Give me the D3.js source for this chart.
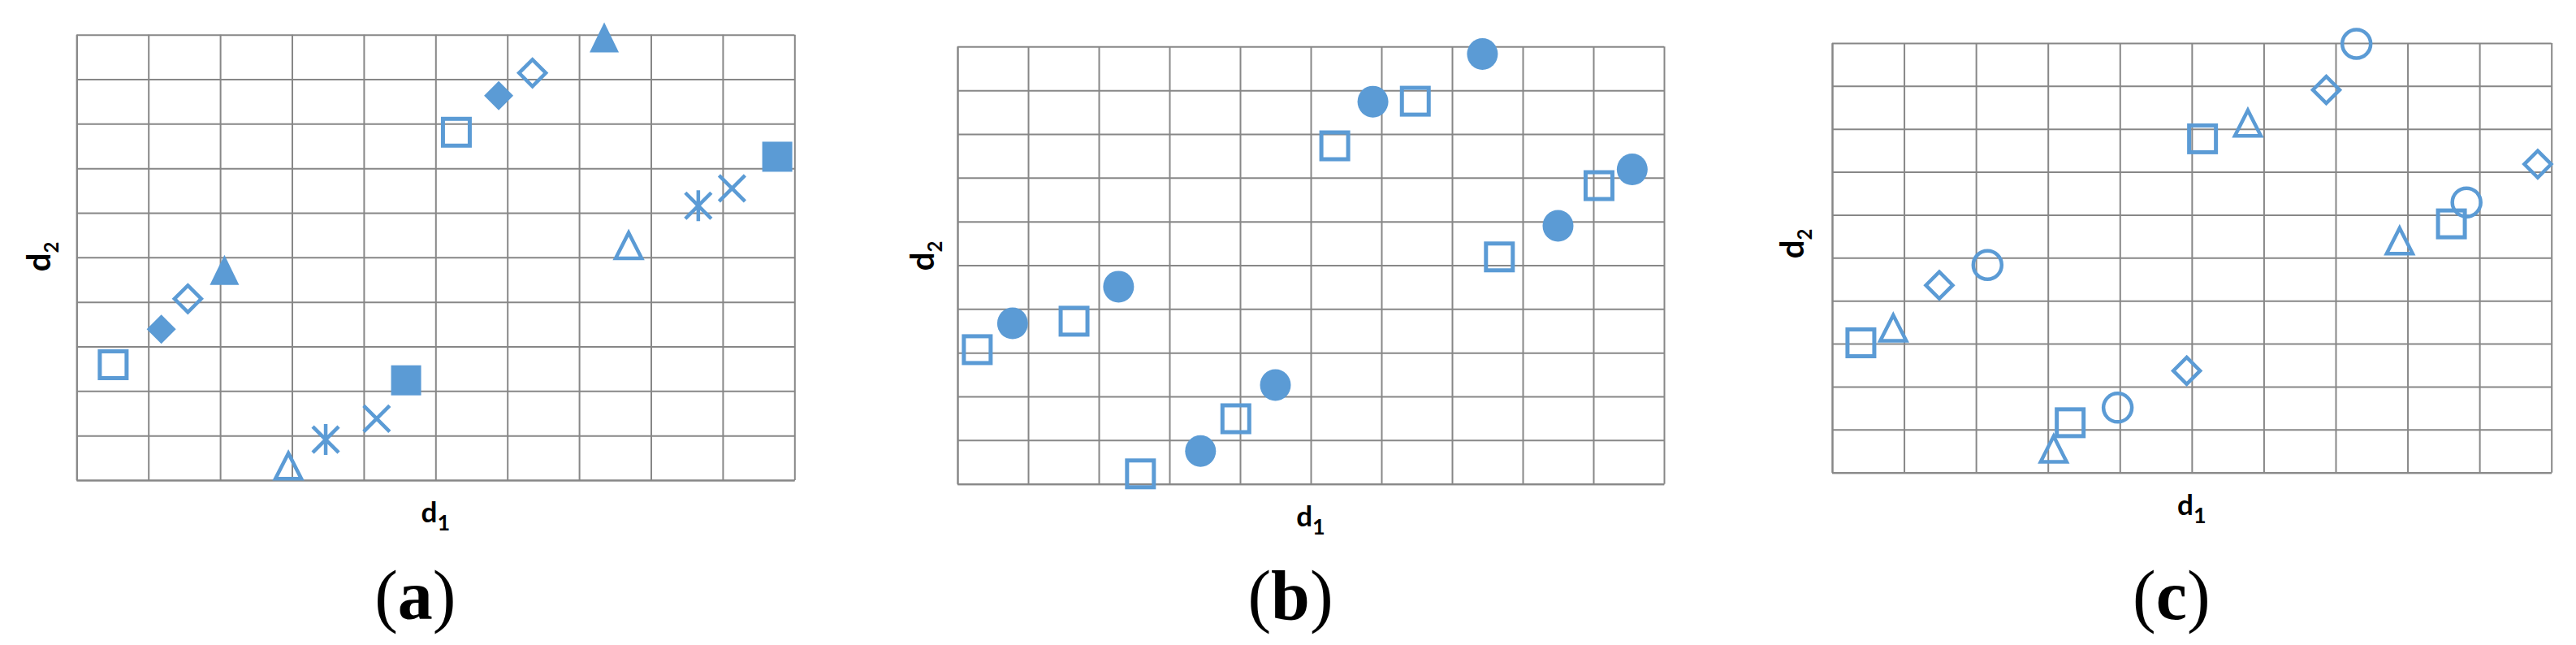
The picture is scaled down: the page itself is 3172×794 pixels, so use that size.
<!DOCTYPE html>
<html><head><meta charset="utf-8">
<script src="https://cdn.jsdelivr.net/npm/d3@7"></script>
<style>body{margin:0;background:#fff} svg{display:block}</style>
</head><body>
<svg id="chart" width="3172" height="794"></svg>
<script>
// ---- data ----
const gridTicks = [0,1,2,3,4,5,6,7,8,9,10];
const panelLabels = ["a","b","c"];
const xAxisLabel = "d", xAxisSub = "1";
const yAxisLabel = "d", yAxisSub = "2";

const aX = [0.51,1.18,1.55,2.06,2.95,3.47,4.18,4.59,5.29,5.88,6.35,7.35,7.69,8.66,9.13,9.76];
const aY = [2.59,3.39,4.07,4.72,0.34,0.91,1.38,2.24,7.81,8.63,9.14,9.94,5.29,6.16,6.55,7.26];
const aMarker = ["squareOpen","diamondFilled","diamondOpen","triangleFilled","triangleOpen","asterisk","cross","squareFilled",
                 "squareOpen","diamondFilled","diamondOpen","triangleFilled","triangleOpen","asterisk","cross","squareFilled"];

const bX = [0.28,0.78,1.65,2.28,2.59,3.44,3.94,4.50,5.34,5.88,6.48,7.43,7.67,8.50,9.08,9.55];
const bY = [3.07,3.67,3.72,4.51,0.23,0.75,1.49,2.26,7.73,8.74,8.75,9.83,5.19,5.90,6.82,7.19];
const bMarker = ["squareOpen","circleFilled","squareOpen","circleFilled","squareOpen","circleFilled","squareOpen","circleFilled",
                 "squareOpen","circleFilled","squareOpen","circleFilled","squareOpen","circleFilled","squareOpen","circleFilled"];

const cX = [0.40,0.85,1.49,2.16,3.08,3.31,3.97,4.93,5.15,5.78,6.87,7.29,7.89,8.61,8.82,9.81];
const cY = [3.02,3.39,4.36,4.83,0.57,1.16,1.51,2.37,7.77,8.16,8.91,9.98,5.42,5.79,6.29,7.18];
const cMarker = ["squareOpen","triangleOpen","diamondOpen","circleOpen","triangleOpen","squareOpen","circleOpen","diamondOpen",
                 "squareOpen","triangleOpen","diamondOpen","circleOpen","triangleOpen","squareOpen","circleOpen","diamondOpen"];

// ---- layout ----
const BLUE = "#5B9BD5", GRID = "#878787";
const panels = [
  {xs:aX, ys:aY, ms:aMarker, label:panelLabels[0], left:94.3, right:978.3, top:42.7, bottom:591, yLabX:61.7, yLabY:316},
  {xs:bX, ys:bY, ms:bMarker, label:panelLabels[1], left:1179, right:2049, top:57.3, bottom:595.7, yLabX:1149.5, yLabY:315},
  {xs:cX, ys:cY, ms:cMarker, label:panelLabels[2], left:2256, right:3141.7, top:53, bottom:581.7, yLabX:2221.4, yLabY:300}
];

const svg = d3.select("#chart");

function drawMarker(g, type) {
  const s = BLUE;
  switch (type) {
    case "squareOpen":
      g.append("rect").attr("x",-16.5).attr("y",-16.5).attr("width",33).attr("height",33)
        .attr("fill","none").attr("stroke",s).attr("stroke-width",5); break;
    case "squareFilled":
      g.append("rect").attr("x",-18.5).attr("y",-18.5).attr("width",37).attr("height",37).attr("fill",s); break;
    case "diamondFilled":
      g.append("path").attr("d","M0,-18L18,0L0,18L-18,0Z").attr("fill",s); break;
    case "diamondOpen":
      g.append("path").attr("d","M0,-16.5L16.5,0L0,16.5L-16.5,0Z").attr("fill","none").attr("stroke",s)
        .attr("stroke-width",4.5).attr("stroke-linejoin","miter"); break;
    case "triangleFilled":
      g.append("path").attr("d","M0,-18.5L18,18.5L-18,18.5Z").attr("fill",s); break;
    case "triangleOpen":
      g.append("path").attr("d","M0,-14.5L16,17L-16,17Z").attr("fill","none").attr("stroke",s)
        .attr("stroke-width",4.5).attr("stroke-linejoin","miter"); break;
    case "asterisk":
      g.append("path").attr("d","M-16,-16L16,16M16,-16L-16,16M0,-19L0,19").attr("fill","none")
        .attr("stroke",s).attr("stroke-width",4.5); break;
    case "cross":
      g.append("path").attr("d","M-16,-16L16,16M16,-16L-16,16").attr("fill","none")
        .attr("stroke",s).attr("stroke-width",4.5); break;
    case "circleFilled":
      g.append("ellipse").attr("rx",19).attr("ry",19.5).attr("fill",s); break;
    case "circleOpen":
      g.append("ellipse").attr("rx",17.5).attr("ry",17.5).attr("fill","none").attr("stroke",s).attr("stroke-width",4.5); break;
  }
}

panels.forEach(p => {
  const x = d3.scaleLinear().domain([0,10]).range([p.left, p.right]);
  const y = d3.scaleLinear().domain([0,10]).range([p.bottom, p.top]);
  const w = p.right - p.left, h = p.bottom - p.top;

  const gx = svg.append("g").attr("transform",`translate(0,${p.bottom})`)
    .call(d3.axisBottom(x).tickValues(gridTicks).tickSize(-h).tickFormat("").tickSizeOuter(0));
  const gy = svg.append("g").attr("transform",`translate(${p.left},0)`)
    .call(d3.axisLeft(y).tickValues(gridTicks).tickSize(-w).tickFormat("").tickSizeOuter(0));
  [gx, gy].forEach(g => {
    g.selectAll("line").attr("stroke",GRID).attr("stroke-width",2);
    g.select(".domain").attr("stroke",GRID).attr("stroke-width",2);
  });

  const pts = p.xs.map((v,i) => ({x:v, y:p.ys[i], m:p.ms[i]}));
  svg.append("g").selectAll("g.pt").data(pts).join("g").attr("class","pt")
    .attr("transform", d => `translate(${x(d.x)},${y(d.y)})`)
    .each(function(d){ drawMarker(d3.select(this), d.m); });

  // x-axis label
  const cx = (p.left + p.right) / 2;
  const xl = svg.append("text").attr("x", cx).attr("y", p.bottom + 52)
    .attr("text-anchor","middle").attr("font-family","Lato, 'Open Sans', sans-serif")
    .attr("font-weight",700).attr("font-size",35).attr("fill","#000").text(xAxisLabel);
  xl.append("tspan").attr("dy",10).attr("font-size",27).text(xAxisSub);

  // y-axis label
  const yl = svg.append("text").attr("transform",`translate(${p.yLabX},${p.yLabY}) rotate(-90)`)
    .attr("text-anchor","middle").attr("font-family","Lato, 'Open Sans', sans-serif")
    .attr("font-weight",700).attr("font-size",40).attr("fill","#000").text(yAxisLabel);
  yl.append("tspan").attr("dy",10).attr("font-size",24).text(yAxisSub);

  // panel label
  const pl = svg.append("text").attr("x", cx - 25).attr("y", 762)
    .attr("text-anchor","middle").attr("font-family","'Liberation Serif', 'Times New Roman', serif")
    .attr("font-size",86).attr("fill","#000").text("(");
  pl.append("tspan").attr("font-weight",700).text(p.label);
  pl.append("tspan").text(")");
});
</script>
</body></html>
